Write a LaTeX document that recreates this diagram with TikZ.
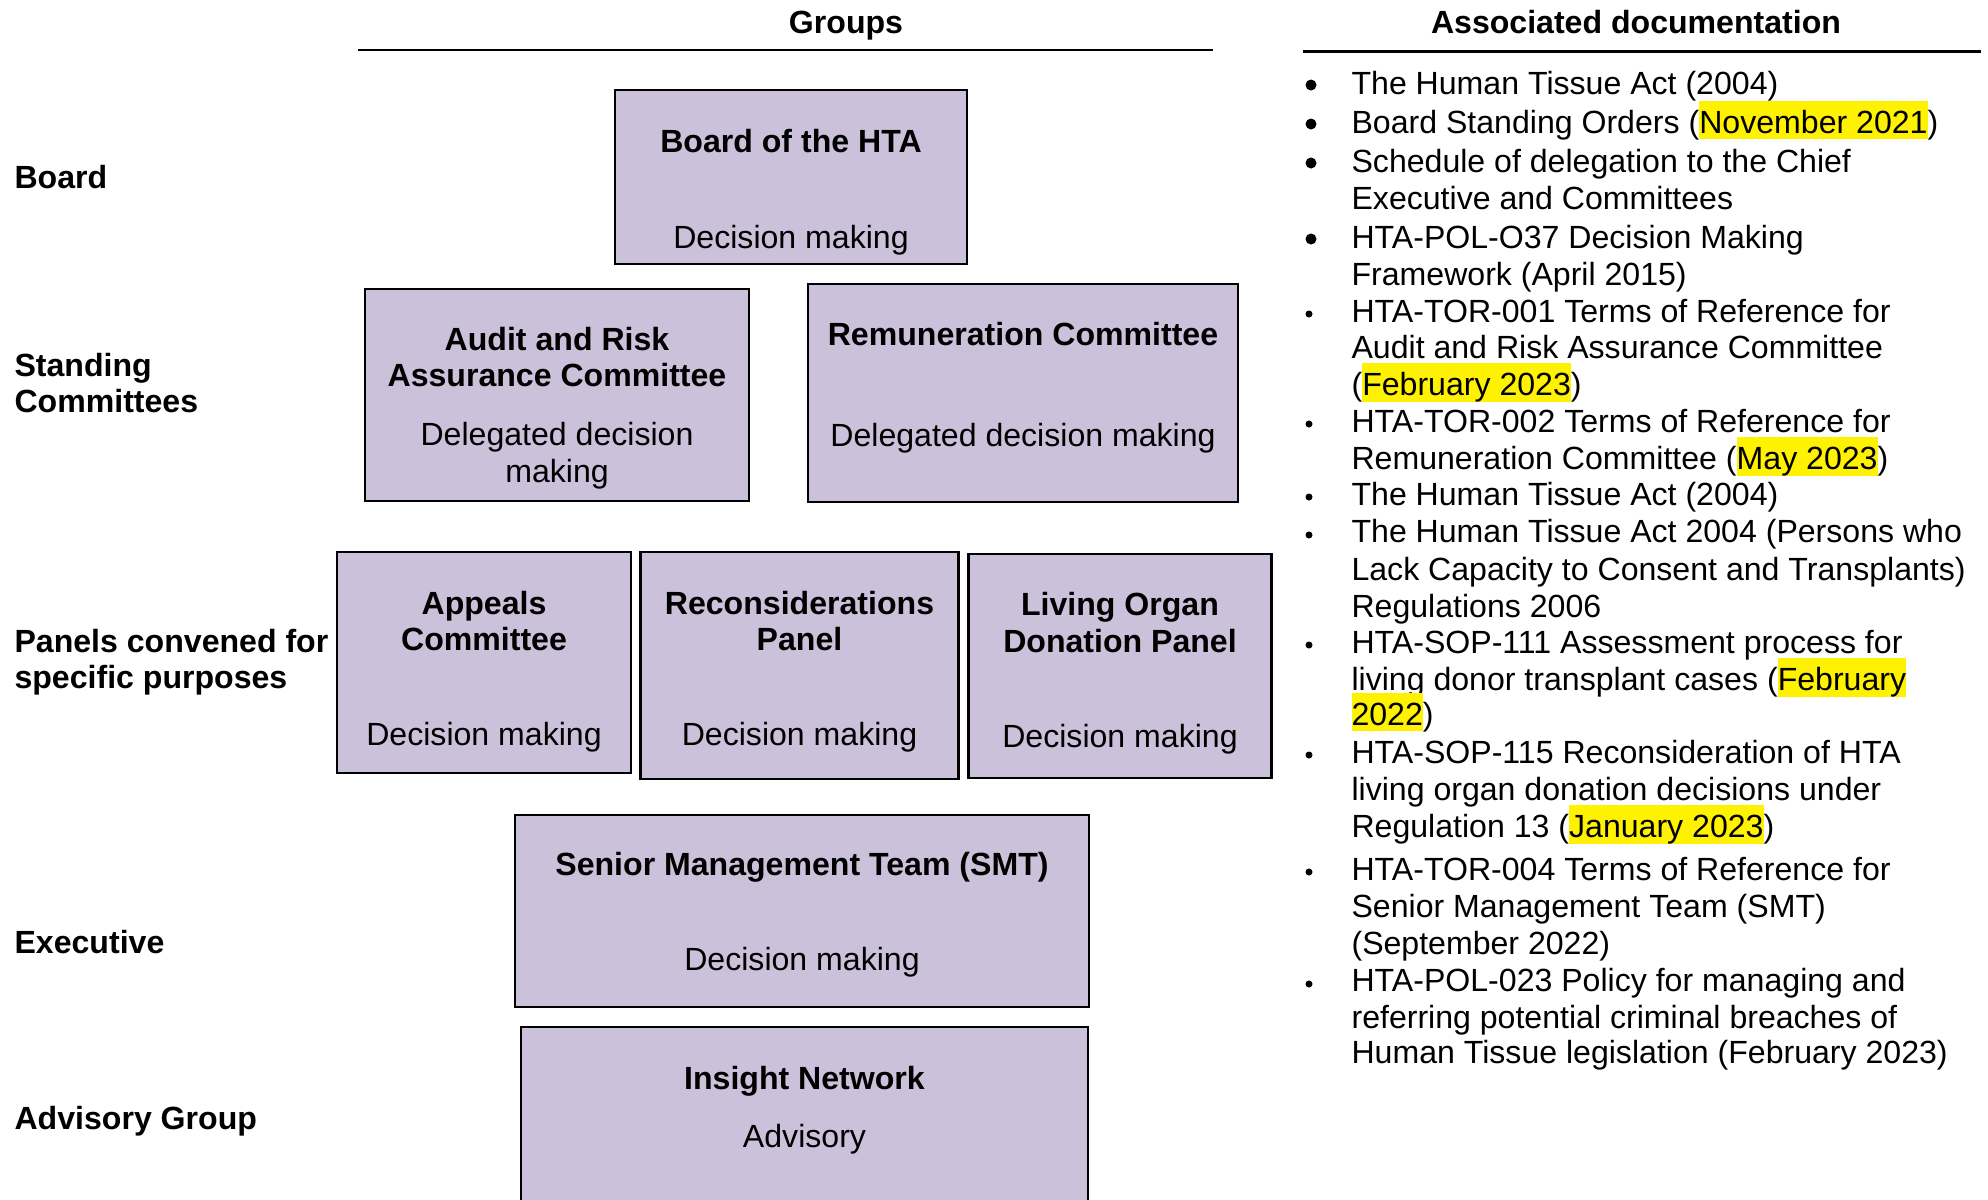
\documentclass[tikz,border=0pt]{standalone}
\usepackage{fontspec}
\setmainfont{Liberation Sans}
\newdimen\pxu \pxu=0.36pt
\newcommand\fs{\fontsize{11.55pt}{13.3pt}\selectfont}
\newcommand\hl[1]{{\setlength\fboxsep{0pt}\colorbox{yellow}{\rule[-6\pxu]{0pt}{38\pxu}#1}}}
\definecolor{boxfill}{RGB}{204,193,218}
\tikzset{
  box/.style={draw=black, line width=0.75pt, fill=boxfill, rectangle, inner sep=0pt},
  txt/.style={inner sep=0pt, anchor=base, font=\fs},
  btxt/.style={inner sep=0pt, anchor=base, font=\fs\bfseries},
  ltxt/.style={inner sep=0pt, anchor=base west, font=\fs\bfseries},
  dtxt/.style={inner sep=0pt, anchor=base west, font=\fs},
  bigbul/.style={circle, fill=black, inner sep=0pt, minimum size=11*\pxu},
  smbul/.style={circle, fill=black, inner sep=0pt, minimum size=7*\pxu},
  rulethin/.style={line width=2*\pxu},
  rulethick/.style={line width=3*\pxu}
}
\begin{document}
\begin{tikzpicture}[x=0.36pt,y=-0.36pt]
\useasboundingbox (0,0) rectangle (1988,1199);
\clip (0,0) rectangle (1988,1199);

% headings
\node[btxt] (hgroups) at (846,33) {Groups};
\node[btxt] (hdocs) at (1636,33) {Associated documentation};
\coordinate (g1) at (358,50); \coordinate (g2) at (1213,50);
\coordinate (a1) at (1303,51); \coordinate (a2) at (1981,51);
\draw[rulethin] (g1) -- (g2);
\draw[rulethick] (a1) -- (a2);

% left labels
\node[ltxt] (lboard) at (14,188) {Board};
\node[ltxt] (lstand1) at (14,376) {Standing};
\node[ltxt] (lstand2) at (14,412) {Committees};
\node[ltxt] (lpanel1) at (14,652) {Panels convened for};
\node[ltxt] (lpanel2) at (14,688) {specific purposes};
\node[ltxt] (lexec) at (14,953) {Executive};
\node[ltxt] (ladv) at (14,1129) {Advisory Group};

% boxes
\node[box, minimum width=352*\pxu, minimum height=174*\pxu] (board) at (791,177) {};
\node[btxt] (boardt) at (791,152) {Board of the HTA};
\node[txt] (boards) at (791,248) {Decision making};

\node[box, minimum width=384*\pxu, minimum height=212*\pxu] (audit) at (557,395) {};
\node[btxt] (auditt1) at (557,350) {Audit and Risk};
\node[btxt] (auditt2) at (557,386) {Assurance Committee};
\node[txt] (audits1) at (557,445) {Delegated decision};
\node[txt] (audits2) at (557,482) {making};

\node[box, minimum width=430*\pxu, minimum height=218*\pxu] (remun) at (1023,393) {};
\node[btxt] (remunt) at (1023,345) {Remuneration Committee};
\node[txt] (remuns) at (1023,446) {Delegated decision making};

\node[box, minimum width=294*\pxu, minimum height=221*\pxu] (appeals) at (484,662.5) {};
\node[btxt] (appealst1) at (484,614) {Appeals};
\node[btxt] (appealst2) at (484,650) {Committee};
\node[txt] (appealss) at (484,745) {Decision making};

\node[box, minimum width=318*\pxu, minimum height=227*\pxu] (recon) at (799.5,665.5) {};
\node[btxt] (recont1) at (799.5,614) {Reconsiderations};
\node[btxt] (recont2) at (799.5,650) {Panel};
\node[txt] (recons) at (799.5,745) {Decision making};

\node[box, minimum width=303*\pxu, minimum height=224*\pxu] (living) at (1120,666) {};
\node[btxt] (livingt1) at (1120,615) {Living Organ};
\node[btxt] (livingt2) at (1120,652) {Donation Panel};
\node[txt] (livings) at (1120,747) {Decision making};

\node[box, minimum width=574*\pxu, minimum height=192*\pxu] (smt) at (802,911) {};
\node[btxt] (smtt) at (802,875) {Senior Management Team (SMT)};
\node[txt] (smts) at (802,970) {Decision making};

\node[box, minimum width=567*\pxu, minimum height=183*\pxu] (insight) at (804.5,1118.5) {};
\node[btxt] (insightt) at (804.5,1089) {Insight Network};
\node[txt] (insights) at (804.5,1147) {Advisory};

% documentation list
\node[bigbul] (b1) at (1311,85) {};
\node[dtxt] (d1) at (1351,94) {The Human Tissue Act (2004)};
\node[bigbul] (b2) at (1311,124) {};
\node[dtxt] (d2) at (1351,133) {Board Standing Orders (\hl{November 2021})};
\node[bigbul] (b3) at (1311,163) {};
\node[dtxt] (d3) at (1351,172) {Schedule of delegation to the Chief};
\node[dtxt] (d4) at (1351,209) {Executive and Committees};
\node[bigbul] (b4) at (1311,239) {};
\node[dtxt] (d5) at (1351,248) {HTA-POL-O37 Decision Making};
\node[dtxt] (d6) at (1351,285) {Framework (April 2015)};
\node[smbul] (b5) at (1309,314) {};
\node[dtxt] (d7) at (1351,322) {HTA-TOR-001 Terms of Reference for};
\node[dtxt] (d8) at (1351,358) {Audit and Risk Assurance Committee};
\node[dtxt] (d9) at (1351,395) {(\hl{February 2023})};
\node[smbul] (b6) at (1309,424) {};
\node[dtxt] (d10) at (1351,432) {HTA-TOR-002 Terms of Reference for};
\node[dtxt] (d11) at (1351,469) {Remuneration Committee (\hl{May 2023})};
\node[smbul] (b7) at (1309,497) {};
\node[dtxt] (d12) at (1351,505) {The Human Tissue Act (2004)};
\node[smbul] (b8) at (1309,535) {};
\node[dtxt] (d13) at (1351,542) {The Human Tissue Act 2004 (Persons who};
\node[dtxt] (d14) at (1351,580) {Lack Capacity to Consent and Transplants)};
\node[dtxt] (d15) at (1351,617) {Regulations 2006};
\node[smbul] (b9) at (1309,645) {};
\node[dtxt] (d16) at (1351,653) {HTA-SOP-111 Assessment process for};
\node[dtxt] (d17) at (1351,690) {living donor transplant cases (\hl{February}};
\node[dtxt] (d18) at (1351,725) {\hl{2022})};
\node[smbul] (b10) at (1309,755) {};
\node[dtxt] (d19) at (1351,763) {HTA-SOP-115 Reconsideration of HTA};
\node[dtxt] (d20) at (1351,800) {living organ donation decisions under};
\node[dtxt] (d21) at (1351,837) {Regulation 13 (\hl{January 2023})};
\node[smbul] (b11) at (1309,872) {};
\node[dtxt] (d22) at (1351,880) {HTA-TOR-004 Terms of Reference for};
\node[dtxt] (d23) at (1351,917) {Senior Management Team (SMT)};
\node[dtxt] (d24) at (1351,954) {(September 2022)};
\node[smbul] (b12) at (1309,984) {};
\node[dtxt] (d25) at (1351,991) {HTA-POL-023 Policy for managing and};
\node[dtxt] (d26) at (1351,1028) {referring potential criminal breaches of};
\node[dtxt] (d27) at (1351,1063) {Human Tissue legislation (February 2023)};
\end{tikzpicture}
\end{document}
